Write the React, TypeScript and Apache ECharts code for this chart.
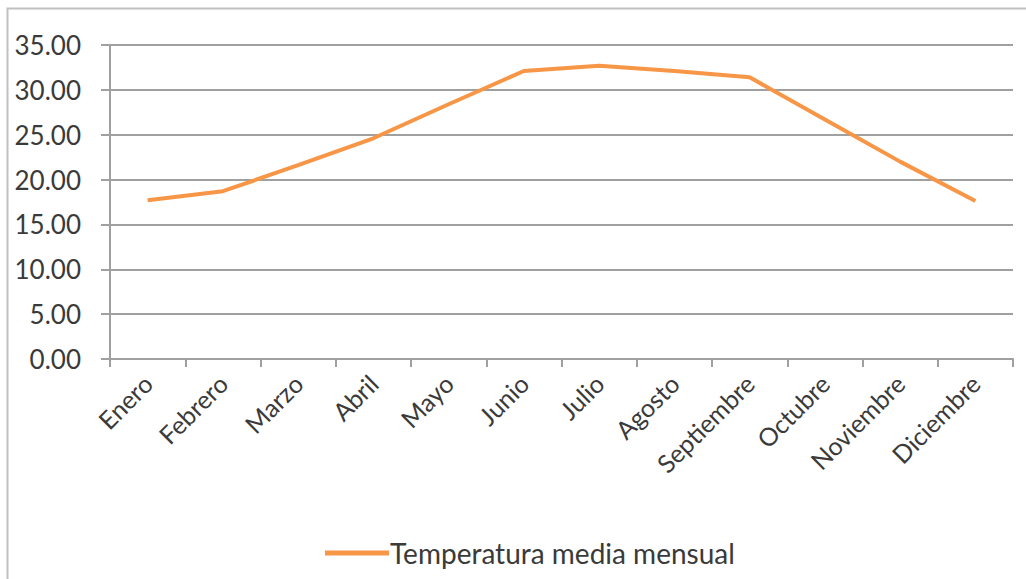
import React, { useEffect, useRef } from "react";
import * as echarts from "echarts";

const months = ["Enero", "Febrero", "Marzo", "Abril", "Mayo", "Junio", "Julio", "Agosto", "Septiembre", "Octubre", "Noviembre", "Diciembre"];
const temperatures = [17.7, 18.7, 21.6, 24.6, 28.4, 32.1, 32.7, 32.1, 31.4, 26.7, 22.0, 17.6];
const seriesName = "Temperatura media mensual";

const FONT = "Lato";
const TEXT = "#3a3a3a";
const GRID = "#a0a0a0";

export default function App() {
  const ref = useRef<HTMLDivElement>(null);
  useEffect(() => {
    if (!ref.current) return;
    const chart = echarts.init(ref.current, null, { renderer: "svg" });
    chart.setOption({
      animation: false,
      backgroundColor: "#ffffff",
      textStyle: { fontFamily: FONT },
      graphic: [
        {
          type: "rect",
          shape: { x: 7.5, y: 8.5, width: 1030, height: 590 },
          style: { fill: "none", stroke: "#c0c0c0", lineWidth: 2 },
          silent: true,
        },
      ],
      grid: { left: 110, right: 13, top: 45, bottom: 220, containLabel: false },
      legend: {
        left: 320,
        top: 534,
        icon: "rect",
        itemWidth: 64,
        itemHeight: 5,
        itemGap: 0,
        textStyle: { fontFamily: FONT, fontSize: 28, color: TEXT, padding: [0, 0, 0, -4] },
        data: [seriesName],
      },
      xAxis: {
        type: "category",
        data: months,
        boundaryGap: true,
        axisLine: { lineStyle: { color: GRID, width: 2 } },
        axisTick: { show: true, length: 8, lineStyle: { color: GRID, width: 2 } },
        axisLabel: {
          rotate: 45,
          fontFamily: FONT,
          fontSize: 25,
          color: TEXT,
          margin: 20,
          interval: 0,
        },
      },
      yAxis: {
        type: "value",
        min: 0,
        max: 35,
        interval: 5,
        axisLine: { show: true, lineStyle: { color: GRID, width: 2 } },
        axisTick: { show: true, length: 9, lineStyle: { color: GRID, width: 2 } },
        splitLine: { show: true, lineStyle: { color: GRID, width: 2 } },
        axisLabel: {
          fontFamily: FONT,
          fontSize: 26,
          color: TEXT,
          margin: 29,
          formatter: (v: number) => v.toFixed(2),
        },
      },
      series: [
        {
          name: seriesName,
          type: "line",
          data: temperatures,
          symbol: "none",
          lineStyle: { color: "#F79646", width: 4 },
          itemStyle: { color: "#F79646" },
        },
      ],
    });
    return () => chart.dispose();
  }, []);
  return (
    <div
      ref={ref}
      style={{ position: "absolute", left: 0, top: 0, width: 1026, height: 579 }}
    />
  );
}
